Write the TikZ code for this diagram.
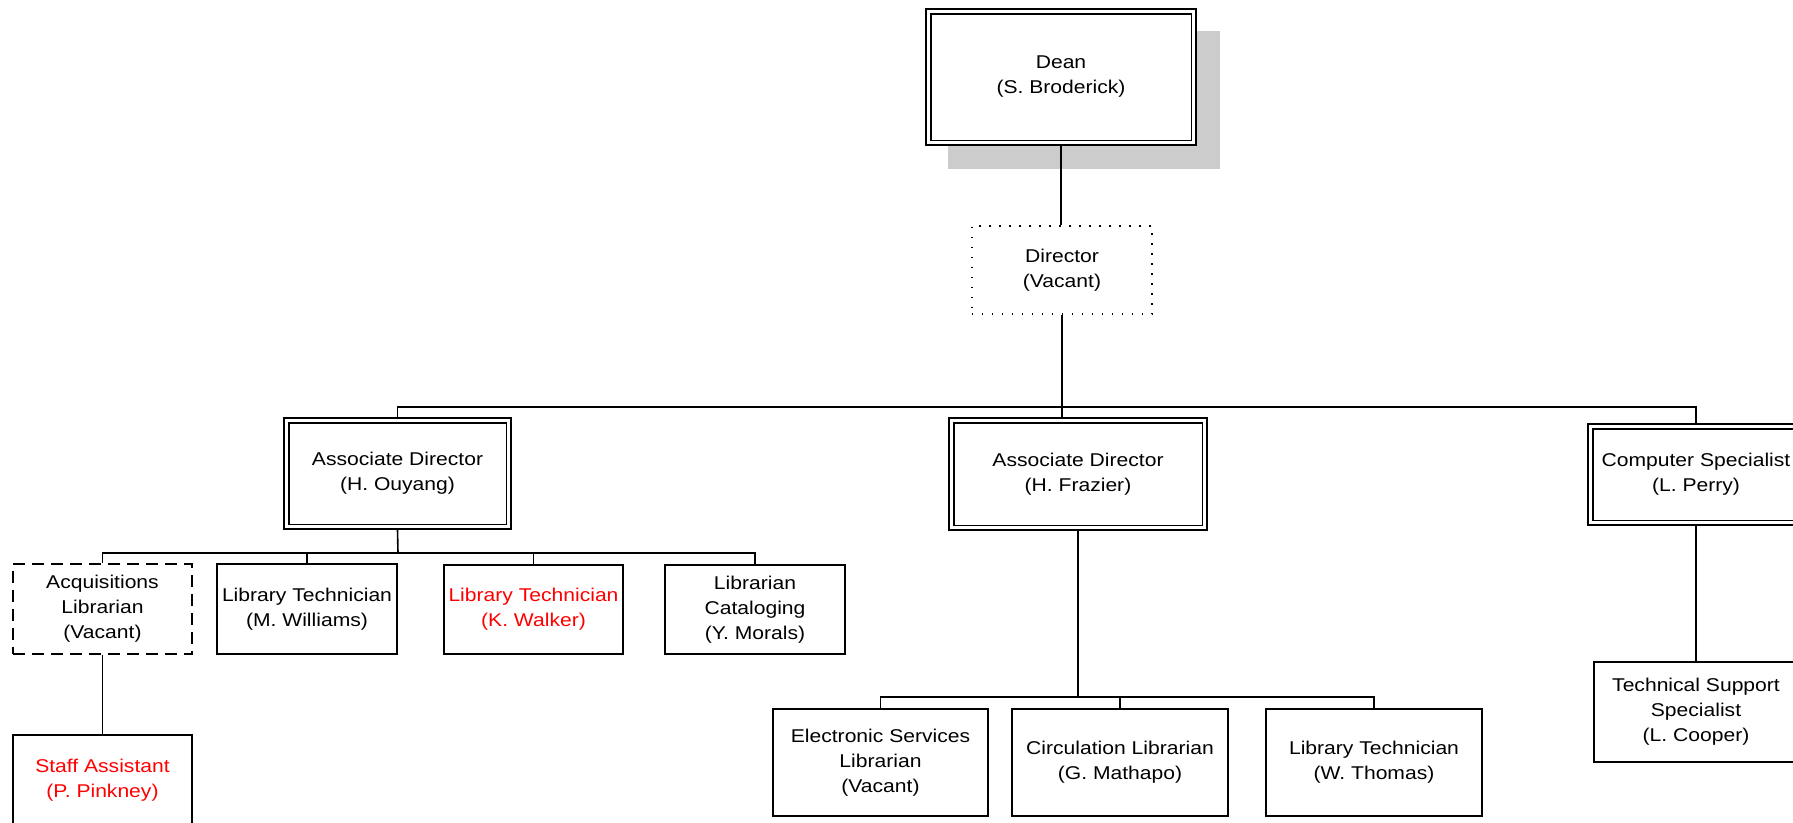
\documentclass[tikz,border=0pt]{standalone}
\usepackage{fontspec}
\setmainfont[FakeStretch=1.14]{Liberation Sans}
\usetikzlibrary{backgrounds,calc}
\definecolor{shadowgray}{RGB}{204,204,204}
\definecolor{namered}{RGB}{255,0,0}
\begin{document}
\begin{tikzpicture}[x=1pt,y=-1pt,
  every node/.style={font=\fontsize{18.5}{25}\selectfont, align=center, inner sep=0pt},
  sbox/.style 2 args={draw, line width=1.6pt, fill=white,
    minimum width={#1pt-1.6pt}, minimum height={#2pt-1.6pt}},
  dbox/.style 2 args={draw, line width=1.6pt, double=white, double distance=3.3pt,
    fill=white, outer sep=3.25pt,
    minimum width={#1pt-6.5pt}, minimum height={#2pt-6.5pt}},
  dotbox/.style={dash pattern=on 1.6pt off 8.4pt},
  dashbox/.style={dash pattern=on 12pt off 7pt},
  redtext/.style={text=namered},
  conn/.style={draw, line width=1.6pt}]
\useasboundingbox (0,0) rectangle (1793,822);

\node[dbox={272}{138}] (dean) at (1061,77) {Dean\\(S. Broderick)};
\node[sbox={182}{90}, dotbox] (director) at (1062,270) {Director\\(Vacant)};
\node[dbox={229}{113}] (ouyang) at (397.5,473.5) {Associate Director\\(H. Ouyang)};
\node[dbox={260}{114}] (frazier) at (1078,474) {Associate Director\\(H. Frazier)};
\node[dbox={218}{103}] (compspec) at (1696,474.5) {Computer Specialist\\(L. Perry)};
\node[sbox={181}{92}, dashbox] (acq) at (102.5,609) {Acquisitions\\Librarian\\(Vacant)};
\node[sbox={182}{92}] (williams) at (307,609) {Library Technician\\(M. Williams)};
\node[sbox={181}{91}, redtext] (walker) at (533.5,609.5) {Library Technician\\(K. Walker)};
\node[sbox={182}{91}] (morals) at (755,609.5) {Librarian\\Cataloging\\(Y. Morals)};
\node[sbox={181}{92}, redtext] (staff) at (102.5,780) {Staff Assistant\\(P. Pinkney)};
\node[sbox={217}{109}] (elec) at (880.5,762.5) {Electronic Services\\Librarian\\(Vacant)};
\node[sbox={218}{109}] (circ) at (1120,762.5) {Circulation Librarian\\(G. Mathapo)};
\node[sbox={218}{109}] (thomas) at (1374,762.5) {Library Technician\\(W. Thomas)};
\node[sbox={206}{102}] (tech) at (1696,712) {Technical Support\\Specialist\\(L. Cooper)};

\begin{scope}[on background layer]
  \fill[shadowgray] ([shift={(23pt,-23pt)}]dean.south west) rectangle ([shift={(23pt,-23pt)}]dean.north east);
\end{scope}

\coordinate (b1) at (1061,407);
\coordinate (b2) at (398,553);
\coordinate (b3) at (1078,697);

\draw[conn] (dean.south) -- (dean.south |- director.north);
\draw[conn] (director.south) -- (director.south |- frazier.north);
\draw[conn] (ouyang.north) |- (b1) -| (compspec.north);

\draw[conn] (ouyang.south) -- (b2);
\draw[conn] (acq.north) |- (b2) -| (morals.north);
\draw[conn] (williams.north) -- (williams.north |- b2);
\draw[conn] (walker.north) -- (walker.north |- b2);
\draw[conn] (acq.south) -- (staff.north);

\draw[conn] (frazier.south) -- (b3);
\draw[conn] (elec.north) |- (b3) -| (thomas.north);
\draw[conn] (circ.north) -- (circ.north |- b3);

\draw[conn] (compspec.south) -- (tech.north);
\end{tikzpicture}
\end{document}
